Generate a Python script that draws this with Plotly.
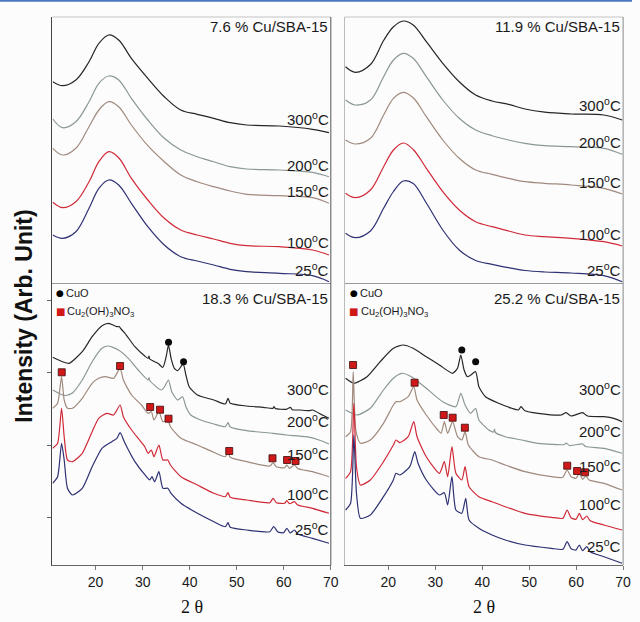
import plotly.graph_objects as go

# ---------------- data ----------------
temps = ["300", "200", "150", "100", "25"]
curve_colors = ["#262626", "#8a9894", "#a08a7e", "#d02a38", "#2e3173"]

# 7.6 % Cu/SBA-15 (shared 2-theta grid)
tt_76 = [10.9, 13.0, 15.8, 18.6, 20.7, 22.8, 24.9, 27.6, 31.1, 34.6, 38.1, 41.6, 45.1, 48.6, 52.1, 59.1, 66.1, 69.6]
i76_300 = [200.8, 196.8, 202.5, 220.8, 239.2, 247.5, 242.5, 224.2, 204.2, 185.8, 172.5, 168.2, 164.2, 159.8, 157.5, 156.5, 153.2, 149.8]
i76_200 = [163.5, 154.8, 160.8, 180.8, 199.2, 206.5, 202.5, 184.2, 162.5, 144.2, 132.5, 125.8, 120.8, 115.8, 113.5, 112.5, 110.2, 105.8]
i76_150 = [134.2, 127.5, 134.2, 155.8, 172.5, 180.8, 175.8, 157.5, 136.8, 120.8, 107.5, 100.8, 95.8, 91.5, 88.2, 86.8, 84.8, 79.2]
i76_100 = [80.2, 74.8, 80.8, 100.8, 120.8, 130.8, 124.8, 104.2, 82.5, 64.2, 52.5, 47.5, 43.5, 39.2, 36.8, 35.8, 32.5, 27.5]
i76_25 = [47.5, 44.2, 50.8, 74.2, 94.2, 102.5, 97.5, 79.2, 55.8, 37.5, 25.8, 21.5, 17.5, 13.2, 10.8, 9.2, 6.8, 0.8]

# 11.9 % Cu/SBA-15 (shared 2-theta grid)
tt_119 = [10.9, 13.0, 16.2, 19.0, 21.1, 23.2, 25.3, 28.1, 31.6, 35.1, 38.6, 42.1, 45.6, 49.1, 53.3, 58.9, 65.9, 69.8]
i119_300 = [215.8, 210.2, 218.0, 242.0, 255.8, 261.5, 257.5, 240.8, 219.2, 200.8, 187.5, 181.5, 178.2, 173.5, 170.3, 168.5, 167.5, 162.5]
i119_200 = [182.5, 177.5, 182.5, 205.8, 222.5, 229.2, 224.2, 205.8, 182.5, 164.2, 152.5, 146.8, 142.5, 139.2, 136.8, 135.8, 134.2, 128.2]
i119_150 = [142.5, 138.5, 144.2, 167.5, 184.2, 190.2, 184.8, 165.8, 142.5, 124.2, 112.5, 108.2, 104.2, 100.8, 99.2, 97.5, 94.2, 88.5]
i119_100 = [89.2, 84.8, 92.5, 115.8, 132.5, 139.5, 133.0, 114.2, 90.8, 72.5, 60.8, 55.8, 51.5, 47.5, 45.8, 44.2, 40.8, 36.5]
i119_25 = [49.2, 44.8, 51.5, 74.2, 91.0, 101.5, 99.0, 79.5, 52.5, 32.5, 22.0, 18.2, 14.8, 12.0, 10.5, 9.5, 6.8, 0.8]

# 18.3 % Cu/SBA-15
tt183_300 = [10.87, 12.97, 14.37, 17.16, 19.26, 21.36, 22.76, 24.5, 25.0, 25.4, 26.25, 28.35, 30.45, 31.15, 31.36, 31.5, 33.25, 34.3, 35.0, 35.49, 36.04, 36.74, 37.44, 38.14, 38.63, 39.19, 39.89, 41.64, 45.14, 47.58, 48.14, 48.63, 52.13, 55.62, 57.72, 57.93, 58.2, 60.52, 61.43, 61.8, 63.32, 65.42, 66.11, 68.21, 69.61]
i183_300 = [207.7, 203.3, 201.7, 213.3, 228.3, 239.3, 241.7, 238.3, 238.5, 236.0, 231.7, 218.3, 209.0, 206.7, 209.0, 206.0, 201.7, 197.7, 208.3, 220.0, 206.7, 196.7, 194.3, 198.3, 201.0, 190.0, 178.3, 170.0, 165.0, 161.0, 166.7, 161.7, 159.0, 157.7, 156.7, 158.4, 156.5, 155.7, 157.7, 155.3, 155.0, 154.3, 155.0, 150.0, 146.7]
tt183_200 = [10.87, 12.97, 13.6, 15.07, 17.16, 19.26, 21.36, 22.76, 24.86, 26.95, 29.05, 31.15, 31.36, 31.5, 33.95, 34.65, 35.49, 36.18, 37.44, 38.49, 39.19, 40.24, 42.34, 45.14, 47.58, 48.14, 48.63, 52.13, 57.72, 60.52, 64.72, 67.51, 69.61]
i183_200 = [175.0, 170.0, 169.5, 172.0, 185.0, 203.3, 216.7, 219.0, 215.0, 206.7, 195.0, 185.0, 187.5, 184.5, 175.0, 178.3, 185.0, 173.3, 165.0, 168.3, 158.3, 150.0, 145.0, 141.0, 138.3, 142.3, 138.0, 134.3, 131.7, 130.0, 128.3, 125.0, 121.0]
tt183_150 = [10.87, 11.92, 12.76, 13.32, 14.02, 15.07, 17.16, 19.26, 20.66, 22.06, 23.81, 25.2, 25.9, 27.65, 29.75, 31.15, 31.85, 32.41, 33.46, 34.3, 35.35, 35.9, 38.14, 41.64, 45.14, 47.58, 48.14, 48.63, 52.13, 57.02, 57.72, 58.42, 60.17, 60.66, 61.22, 62.27, 62.97, 66.11, 69.61]
i183_150 = [156.7, 161.7, 188.3, 165.0, 156.7, 156.7, 166.7, 181.7, 186.7, 188.3, 186.7, 196.7, 185.0, 170.0, 160.0, 151.7, 153.3, 145.0, 153.3, 143.3, 145.0, 138.3, 126.7, 120.0, 112.7, 108.3, 112.7, 107.7, 103.3, 99.0, 102.3, 98.3, 97.3, 100.0, 96.7, 100.0, 96.5, 93.3, 88.3]
tt183_100 = [10.87, 11.92, 12.76, 13.32, 14.02, 15.07, 17.16, 19.26, 20.66, 22.41, 23.81, 25.2, 25.9, 27.65, 30.45, 31.15, 31.85, 32.41, 33.46, 34.3, 35.35, 35.9, 38.14, 41.64, 45.14, 47.58, 48.14, 48.63, 52.13, 57.02, 57.72, 58.42, 60.17, 60.66, 61.22, 62.27, 62.97, 66.11, 69.61]
i183_100 = [116.7, 121.7, 156.7, 128.3, 105.0, 103.3, 111.7, 133.3, 146.7, 151.7, 150.0, 160.0, 148.3, 135.0, 118.3, 111.7, 115.0, 108.3, 120.0, 105.0, 105.0, 100.0, 88.3, 80.0, 71.7, 68.3, 72.3, 67.7, 65.0, 62.3, 66.7, 62.3, 61.7, 64.3, 61.3, 63.3, 60.0, 56.7, 51.7]
tt183_25 = [10.87, 11.92, 12.76, 13.32, 14.02, 15.07, 17.16, 19.26, 21.36, 23.46, 24.51, 25.2, 26.25, 28.35, 30.8, 31.5, 31.99, 32.55, 33.46, 34.3, 35.35, 36.04, 38.14, 41.64, 45.14, 47.58, 48.14, 48.63, 52.13, 57.02, 57.86, 58.77, 59.96, 60.66, 61.36, 62.27, 62.97, 66.11, 69.61]
i183_25 = [81.7, 88.3, 121.7, 105.0, 76.7, 70.0, 76.7, 98.3, 116.7, 123.3, 126.7, 132.3, 121.7, 103.3, 88.3, 85.0, 88.3, 83.3, 93.3, 76.7, 76.7, 71.7, 61.7, 51.7, 43.3, 38.3, 42.3, 37.7, 35.0, 33.3, 38.3, 33.0, 32.3, 36.7, 32.0, 35.0, 31.0, 26.7, 21.7]

# 25.2 % Cu/SBA-15
tt252_300 = [10.91, 12.66, 15.47, 18.27, 21.07, 23.17, 25.28, 28.08, 30.88, 33.69, 34.74, 35.44, 36.14, 36.84, 37.54, 38.59, 39.29, 40.69, 43.5, 46.3, 47.7, 48.26, 49.1, 51.9, 56.81, 57.86, 58.91, 61.37, 62.42, 65.92, 68.02, 69.78]
i252_300 = [186.7, 181.7, 188.3, 203.3, 216.7, 220.0, 216.7, 208.3, 200.0, 191.7, 196.7, 210.0, 195.0, 188.3, 190.0, 193.3, 178.3, 168.3, 161.7, 156.7, 155.0, 158.3, 154.3, 151.7, 150.0, 152.3, 149.0, 152.3, 149.0, 148.3, 146.7, 143.3]
tt252_200 = [10.91, 13.36, 16.17, 18.97, 21.07, 22.82, 24.93, 28.08, 31.58, 34.39, 35.44, 36.35, 37.54, 38.59, 39.29, 41.4, 42.45, 42.6, 42.8, 44.9, 48.4, 51.9, 57.5, 57.86, 58.6, 61.37, 62.0, 65.92, 69.78]
i252_200 = [155.0, 150.0, 156.7, 175.0, 186.7, 191.7, 188.3, 176.7, 163.3, 158.3, 171.7, 160.0, 151.7, 156.7, 145.0, 135.0, 133.0, 136.0, 132.5, 128.3, 125.0, 121.7, 120.5, 122.0, 119.5, 121.0, 118.5, 116.7, 111.7]
tt252_150 = [10.91, 11.96, 12.52, 13.08, 14.06, 16.17, 18.97, 21.07, 21.63, 22.47, 24.23, 25.42, 26.12, 28.08, 30.53, 31.23, 31.93, 32.64, 33.69, 34.74, 35.65, 36.35, 37.05, 39.29, 42.1, 44.9, 49.1, 54.71, 57.16, 58.07, 58.91, 59.97, 60.67, 61.37, 62.07, 62.77, 65.92, 69.78]
i252_150 = [128.3, 133.3, 193.3, 135.0, 121.7, 125.0, 141.7, 160.0, 163.3, 163.3, 168.3, 178.3, 165.0, 150.0, 135.0, 131.7, 143.3, 131.7, 143.3, 128.3, 125.0, 133.3, 120.0, 108.3, 105.0, 100.0, 93.3, 88.3, 87.7, 95.0, 88.3, 86.7, 91.7, 85.7, 89.0, 85.0, 81.7, 75.0]
tt252_100 = [10.91, 11.96, 12.66, 13.22, 14.06, 16.17, 18.97, 21.07, 21.63, 22.47, 24.23, 25.42, 26.12, 28.08, 30.88, 31.93, 32.64, 33.55, 34.39, 35.65, 36.35, 37.19, 39.29, 42.1, 44.9, 49.1, 54.71, 57.16, 58.07, 58.91, 59.97, 60.67, 61.37, 62.28, 62.98, 65.92, 69.78]
i252_100 = [86.7, 93.3, 161.7, 98.3, 80.0, 85.0, 103.3, 120.0, 125.0, 122.3, 128.3, 143.3, 128.3, 108.3, 91.7, 103.3, 88.3, 118.3, 91.7, 85.0, 98.3, 78.3, 68.3, 63.3, 58.3, 51.7, 47.7, 46.7, 55.0, 47.3, 45.7, 51.7, 45.3, 49.0, 44.3, 40.0, 35.0]
tt252_25 = [10.91, 11.96, 12.66, 13.22, 14.06, 16.17, 18.97, 21.07, 21.63, 22.47, 24.58, 25.63, 26.33, 28.08, 30.88, 31.93, 32.64, 33.55, 34.39, 35.65, 36.49, 37.19, 39.29, 42.1, 44.9, 49.1, 54.71, 57.16, 58.07, 58.91, 59.97, 60.67, 61.37, 62.28, 62.98, 65.92, 69.78]
i252_25 = [55.0, 61.7, 130.0, 71.7, 46.7, 50.0, 68.3, 85.0, 91.7, 90.0, 98.3, 113.3, 101.7, 85.0, 70.0, 72.3, 60.0, 88.3, 55.0, 51.7, 66.7, 45.0, 36.7, 30.0, 25.0, 20.0, 16.7, 15.7, 23.3, 16.3, 15.0, 20.0, 14.3, 18.3, 13.3, 8.3, 1.7]

# phase markers (2-theta, height)
cuo_183_x = [35.5, 38.7]
cuo_183_y = [222.7, 203.3]
chn_183_x = [12.8, 25.2, 31.6, 33.7, 35.5, 48.4, 57.6, 60.7, 62.5]
chn_183_y = [192.7, 199.0, 158.0, 155.3, 146.3, 114.0, 106.7, 105.0, 104.0]
cuo_252_x = [35.65, 38.6]
cuo_252_y = [215.0, 203.3]
chn_252_x = [12.5, 25.6, 31.8, 33.7, 36.3, 58.1, 60.2, 61.9]
chn_252_y = [200.0, 182.3, 150.0, 147.3, 137.3, 99.3, 94.0, 92.7]

panel_titles = ["7.6 % Cu/SBA-15", "11.9 % Cu/SBA-15", "18.3 % Cu/SBA-15", "25.2 % Cu/SBA-15"]
xtick_vals = [20, 30, 40, 50, 60, 70]

# label heights for the temperature tags
label_y_76 = [164.2, 117.5, 91.8, 40.8, 12.5]
label_y_119 = [177.5, 140.8, 100.8, 49.2, 12.5]
label_y_183 = [176.7, 145.0, 111.7, 71.7, 36.7]
label_y_252 = [176.7, 135.0, 100.0, 61.7, 20.0]

# ---------------- figure ----------------
W, H = 640, 622
FONT = "Liberation Sans, Arial, sans-serif"

def px_x(p):
    return p / W

def px_y(p):
    return 1 - p / H

xL = [px_x(53), px_x(335)]
xR = [px_x(349), px_x(631)]
yT = [px_y(282.5), px_y(17)]
yB = [px_y(565), px_y(282.5)]

fig = go.Figure()

panels = [
    dict(ax="x", ay="y", xs=[tt_76] * 5, ys=[i76_300, i76_200, i76_150, i76_100, i76_25], labels=label_y_76, smooth=1.0),
    dict(ax="x2", ay="y2", xs=[tt_119] * 5, ys=[i119_300, i119_200, i119_150, i119_100, i119_25], labels=label_y_119, smooth=1.0),
    dict(ax="x3", ay="y3", xs=[tt183_300, tt183_200, tt183_150, tt183_100, tt183_25],
         ys=[i183_300, i183_200, i183_150, i183_100, i183_25], labels=label_y_183, smooth=0.6),
    dict(ax="x4", ay="y4", xs=[tt252_300, tt252_200, tt252_150, tt252_100, tt252_25],
         ys=[i252_300, i252_200, i252_150, i252_100, i252_25], labels=label_y_252, smooth=0.6),
]

annotations = []
for k, p in enumerate(panels):
    for t, col, xv, yv, ly in zip(temps, curve_colors, p["xs"], p["ys"], p["labels"]):
        fig.add_trace(go.Scatter(
            x=xv, y=yv, mode="lines", xaxis=p["ax"], yaxis=p["ay"],
            line=dict(color=col, width=1.2, shape="spline", smoothing=p["smooth"]),
            showlegend=False, hoverinfo="skip"))
        annotations.append(dict(
            text=f"{t}<sup>o</sup>C", xref=f"{p['ax']} domain", x=1, xanchor="right",
            yref=p["ay"], y=ly, yanchor="middle", showarrow=False,
            font=dict(family=FONT, size=15, color="#1a1a1a")))
    top_shift = 1 if k < 2 else -5
    annotations.append(dict(
        text=panel_titles[k], xref=f"{p['ax']} domain", x=1, xanchor="right", xshift=-1,
        yref=f"{p['ay']} domain", y=1, yanchor="top", yshift=top_shift, showarrow=False,
        font=dict(family=FONT, size=15, color="#1a1a1a")))

# phase markers
for ax, ay, cx, cy, sx, sy in [("x3", "y3", cuo_183_x, cuo_183_y, chn_183_x, chn_183_y),
                               ("x4", "y4", cuo_252_x, cuo_252_y, chn_252_x, chn_252_y)]:
    fig.add_trace(go.Scatter(x=cx, y=cy, mode="markers", xaxis=ax, yaxis=ay,
                             marker=dict(symbol="circle", size=7, color="#0a0a0a"),
                             showlegend=False, hoverinfo="skip"))
    fig.add_trace(go.Scatter(x=sx, y=sy, mode="markers", xaxis=ax, yaxis=ay,
                             marker=dict(symbol="square", size=7, color="#d01818",
                                         line=dict(color="#3a0a0a", width=0.8)),
                             showlegend=False, hoverinfo="skip"))

# in-panel keys
for ax, ay, dx in [("x3", "y3", 8), ("x4", "y4", 9)]:
    annotations += [
        dict(text="●", xref=f"{ax} domain", x=0, xanchor="center", xshift=dx,
             yref=f"{ay} domain", y=1, yanchor="middle", yshift=-10, showarrow=False,
             font=dict(family="DejaVu Sans", size=9, color="#000")),
        dict(text="CuO", xref=f"{ax} domain", x=0, xanchor="left", xshift=dx + 4,
             yref=f"{ay} domain", y=1, yanchor="middle", yshift=-10, showarrow=False,
             font=dict(family=FONT, size=11, color="#1a1a1a")),
        dict(text="■", xref=f"{ax} domain", x=0, xanchor="center", xshift=dx,
             yref=f"{ay} domain", y=1, yanchor="middle", yshift=-29, showarrow=False,
             font=dict(family="DejaVu Sans", size=10, color="#d01818")),
        dict(text="Cu<sub>2</sub>(OH)<sub>3</sub>NO<sub>3</sub>", xref=f"{ax} domain", x=0,
             xanchor="left", xshift=dx + 5, yref=f"{ay} domain", y=1, yanchor="middle",
             yshift=-29, showarrow=False, font=dict(family=FONT, size=11, color="#1a1a1a")),
    ]

# axis titles
annotations.append(dict(text="<b>Intensity (Arb. Unit)</b>", xref="paper", yref="paper",
                        x=px_x(24), y=px_y(316), textangle=-90, showarrow=False,
                        xanchor="center", yanchor="middle",
                        font=dict(family=FONT, size=23, color="#111")))
for cx in [194, 490]:
    annotations.append(dict(text="2 θ", xref="paper", yref="paper", x=px_x(cx), y=px_y(607),
                            showarrow=False, xanchor="center", yanchor="middle",
                            font=dict(family="Liberation Serif, Times New Roman, serif", size=18, color="#111")))

common_x = dict(range=[10.8, 70], showgrid=False, zeroline=False, showline=True,
                linewidth=1, tickmode="array", tickvals=xtick_vals)
common_y = dict(showgrid=False, zeroline=False, showticklabels=False, showline=True, linewidth=1)

layout = dict(
    width=W, height=H, margin=dict(l=0, r=0, t=0, b=0),
    paper_bgcolor="#fcfcfc", plot_bgcolor="#fcfcfc", showlegend=False,
    xaxis=dict(common_x, domain=xL, anchor="y", showticklabels=False, ticks="", linecolor="#999"),
    yaxis=dict(common_y, domain=yT, anchor="x", range=[0, 265.5], linecolor="#444", ticks=""),
    xaxis2=dict(common_x, domain=xR, anchor="y2", range=[10.7, 70], showticklabels=False, ticks="", linecolor="#999"),
    yaxis2=dict(common_y, domain=yT, anchor="x2", range=[0, 265.5], linecolor="#bbb", ticks=""),
    xaxis3=dict(common_x, domain=xL, anchor="y3", ticks="outside", ticklen=4, tickcolor="#777",
                linecolor="#666", tickfont=dict(family=FONT, size=14, color="#1a1a1a")),
    yaxis3=dict(common_y, domain=yB, anchor="x3", range=[0, 282.5], linecolor="#444",
                ticks="outside", ticklen=4, tickcolor="#666", tickmode="linear", tick0=47.7, dtick=72.2),
    xaxis4=dict(common_x, domain=xR, anchor="y4", range=[10.7, 70], ticks="outside", ticklen=4,
                tickcolor="#777", linecolor="#666", tickfont=dict(family=FONT, size=14, color="#1a1a1a")),
    yaxis4=dict(common_y, domain=yB, anchor="x4", range=[0, 282.5], linecolor="#bbb", ticks=""),
    annotations=annotations,
)
fig.update_layout(**layout)

# frame edges (top and right) and the header rule
shapes = [
    dict(type="line", xref="paper", yref="paper", x0=0, x1=1, y0=px_y(0.8), y1=px_y(0.8),
         line=dict(color="#4a78c2", width=2)),
    dict(type="line", xref="paper", yref="paper", x0=xL[0], x1=xL[1], y0=yT[1], y1=yT[1], line=dict(color="#c4c4c4", width=1)),
    dict(type="line", xref="paper", yref="paper", x0=xR[0], x1=xR[1], y0=yT[1], y1=yT[1], line=dict(color="#c4c4c4", width=1)),
    dict(type="line", xref="paper", yref="paper", x0=xL[1], x1=xL[1], y0=yB[0], y1=yT[1], line=dict(color="#555", width=1)),
    dict(type="line", xref="paper", yref="paper", x0=xR[1], x1=xR[1], y0=yB[0], y1=yT[1], line=dict(color="#888", width=1)),
]
fig.update_layout(shapes=shapes)

fig.write_html("out.html")
